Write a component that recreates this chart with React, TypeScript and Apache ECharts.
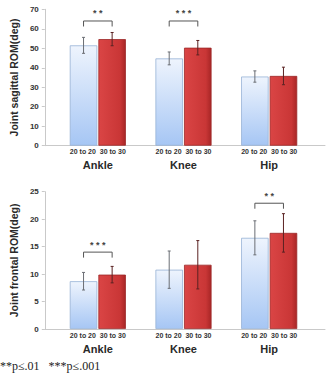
import React, { useEffect, useRef } from "react";
import * as echarts from "echarts";

// Joints and conditions
const joints = ["Ankle", "Knee", "Hip"];
const conditions = ["20 to 20", "30 to 30"];

// Sagittal ROM (deg): means and standard deviations
const sagittal20 = [51.5, 44.8, 35.5];
const sagittal30 = [54.7, 50.3, 35.8];
const sagittal20Sd = [4.1, 3.3, 2.9];
const sagittal30Sd = [3.4, 3.7, 4.5];

// Frontal ROM (deg): means and standard deviations
const frontal20 = [8.7, 10.8, 16.6];
const frontal30 = [9.9, 11.7, 17.5];
const frontal20Sd = [1.6, 3.4, 3.1];
const frontal30Sd = [1.5, 4.4, 3.5];

// Significance brackets: joint index, bracket height, stars
const sagittalSigJoint = [0, 1];
const sagittalSigLevel = [64, 64];
const sagittalSigStars = ["* *", "* * *"];
const frontalSigJoint = [0, 2];
const frontalSigLevel = [14, 22.9];
const frontalSigStars = ["* * *", "* *"];

const sagittalTicks = { min: 0, max: 70, interval: 10 };
const frontalTicks = { min: 0, max: 25, interval: 5 };

const FONT = "'Liberation Sans', Arial, sans-serif";
const BAR_W = 27.5;
const BAR_GAP = "4%";
const HALF_STEP = (BAR_W * 1.04) / 2;

const lightFill = new echarts.graphic.LinearGradient(0, 0, 0, 1, [
  { offset: 0, color: "#eef4fd" },
  { offset: 1, color: "#a6c6f4" },
]);
const redFill = new echarts.graphic.LinearGradient(0, 0, 1, 0, [
  { offset: 0, color: "#da4545" },
  { offset: 0.8, color: "#c93636" },
  { offset: 1, color: "#a82626" },
]);

function panel(
  idx: number,
  top: number,
  height: number,
  ticks: { min: number; max: number; interval: number },
  title: string,
  a: number[],
  b: number[],
  aSd: number[],
  bSd: number[],
  sigJoint: number[],
  sigLevel: number[],
  sigStars: string[]
) {
  const frameGrid = idx * 2;
  const barGrid = idx * 2 + 1;
  const grids = [
    { left: 41, right: 3, top, height },
    { left: 55, right: 16, top, height },
  ];
  const xAxes = [
    {
      gridIndex: frameGrid,
      type: "value",
      min: 0,
      max: 1,
      axisLine: { show: true, lineStyle: { color: "#c9c9c9", width: 1 } },
      axisTick: { show: false },
      axisLabel: { show: false },
      splitLine: { show: false },
    },
    {
      gridIndex: barGrid,
      type: "category",
      data: joints,
      axisLine: { show: false },
      axisTick: { show: false },
      axisLabel: {
        margin: 1,
        interval: 0,
        color: "#333333",
        formatter: (v: string) =>
          `{cond|${conditions[0]}  ${conditions[1]}}\n{joint|${v}}`,
        rich: {
          cond: {
            fontSize: 7,
            fontWeight: "bold",
            fontFamily: FONT,
            color: "#333333",
            lineHeight: 10,
          },
          joint: { fontSize: 11, fontWeight: "bold", fontFamily: FONT, color: "#2a2a2a", lineHeight: 17 },
        },
      },
    },
  ];
  const yAxes = [
    {
      gridIndex: frameGrid,
      type: "value",
      ...ticks,
      name: title,
      nameLocation: "middle",
      nameGap: 23,
      nameTextStyle: { fontSize: 10.5, fontWeight: "bold", fontFamily: FONT, color: "#2a2a2a" },
      axisLine: { show: true, lineStyle: { color: "#c9c9c9", width: 1 } },
      axisTick: { show: true, length: 3, lineStyle: { color: "#c9c9c9" } },
      axisLabel: { fontSize: 8, fontWeight: "bold", fontFamily: FONT, color: "#333", margin: 6 },
      splitLine: { show: false },
    },
    {
      gridIndex: barGrid,
      type: "value",
      ...ticks,
      show: false,
      splitLine: { show: false },
    },
  ];

  const errData: number[][] = [];
  a.forEach((v, i) => errData.push([i, v, aSd[i], -1]));
  b.forEach((v, i) => errData.push([i, v, bSd[i], 1]));

  const series: any[] = [
    {
      type: "bar",
      name: conditions[0],
      xAxisIndex: barGrid,
      yAxisIndex: barGrid,
      data: a,
      barWidth: BAR_W,
      barGap: BAR_GAP,
      itemStyle: { color: lightFill, borderColor: "#97b2d6", borderWidth: 0.8 },
    },
    {
      type: "bar",
      name: conditions[1],
      xAxisIndex: barGrid,
      yAxisIndex: barGrid,
      data: b,
      barWidth: BAR_W,
      barGap: BAR_GAP,
      itemStyle: { color: redFill, borderColor: "#9c2828", borderWidth: 0.8 },
    },
    {
      type: "custom",
      xAxisIndex: barGrid,
      yAxisIndex: barGrid,
      data: errData,
      z: 5,
      renderItem: (_p: any, api: any) => {
        const cat = api.value(0);
        const mean = api.value(1);
        const sd = api.value(2);
        const side = api.value(3);
        const c = api.coord([cat, mean]);
        const x = c[0] + side * HALF_STEP;
        const hi = api.coord([cat, mean + sd])[1];
        const lo = api.coord([cat, mean - sd])[1];
        const color = side < 0 ? "#6b6e74" : "#5a2222";
        const style = { stroke: color, lineWidth: 1 };
        return {
          type: "group",
          children: [
            { type: "line", shape: { x1: x, y1: hi, x2: x, y2: lo }, style },
            { type: "line", shape: { x1: x - 1.5, y1: hi, x2: x + 1.5, y2: hi }, style },
            { type: "line", shape: { x1: x - 1.5, y1: lo, x2: x + 1.5, y2: lo }, style },
          ],
        };
      },
    },
    {
      type: "custom",
      xAxisIndex: barGrid,
      yAxisIndex: barGrid,
      data: sigJoint.map((j, i) => [j, sigLevel[i]]),
      z: 6,
      renderItem: (p: any, api: any) => {
        const cat = api.value(0);
        const c = api.coord([cat, api.value(1)]);
        const x1 = c[0] - HALF_STEP;
        const x2 = c[0] + HALF_STEP;
        const y = c[1];
        return {
          type: "group",
          children: [
            {
              type: "polyline",
              shape: { points: [[x1, y + 5.5], [x1, y], [x2, y], [x2, y + 5.5]] },
              style: { stroke: "#555", lineWidth: 1, fill: null },
            },
            {
              type: "text",
              x: c[0],
              y: y - 3,
              style: {
                text: sigStars[p.dataIndex],
                fontSize: 9,
                fontWeight: "bold",
                fontFamily: FONT,
                fill: "#444",
                align: "center",
                verticalAlign: "bottom",
              },
            },
          ],
        };
      },
    },
  ];
  return { grids, xAxes, yAxes, series };
}

export default function App() {
  const ref = useRef<HTMLDivElement>(null);
  useEffect(() => {
    if (!ref.current) return;
    const chart = echarts.init(ref.current, null, { renderer: "svg" });
    const top = panel(0, 9.3, 136.4, sagittalTicks, "Joint sagittal ROM(deg)",
      sagittal20, sagittal30, sagittal20Sd, sagittal30Sd,
      sagittalSigJoint, sagittalSigLevel, sagittalSigStars);
    const bottom = panel(1, 191.7, 137.3, frontalTicks, "Joint frontal ROM(deg)",
      frontal20, frontal30, frontal20Sd, frontal30Sd,
      frontalSigJoint, frontalSigLevel, frontalSigStars);
    chart.setOption({
      animation: false,
      backgroundColor: "#ffffff",
      grid: [...top.grids, ...bottom.grids],
      xAxis: [...top.xAxes, ...bottom.xAxes],
      yAxis: [...top.yAxes, ...bottom.yAxes],
      series: [...top.series, ...bottom.series],
      graphic: [
        {
          type: "text",
          left: 0,
          top: 360,
          style: {
            text: "**p\u2264.01   ***p\u2264.001",
            fontSize: 12,
            fontFamily: "'Liberation Serif', 'Times New Roman', serif",
            fill: "#222",
          },
        },
      ],
    });
    return () => chart.dispose();
  }, []);
  return (
    <div
      ref={ref}
      style={{ position: "absolute", left: 0, top: 0, width: 328, height: 374 }}
    />
  );
}
